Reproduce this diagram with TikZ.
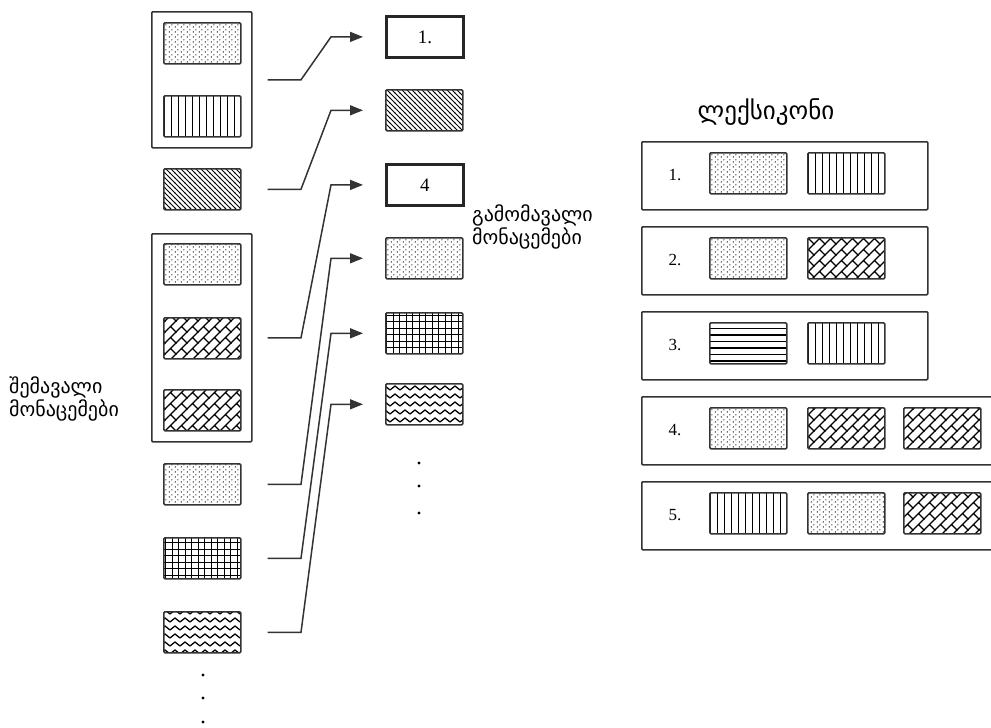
\documentclass[tikz,border=0pt]{standalone}
\usepackage{fontspec}
\setmainfont{Liberation Serif}
\newfontfamily\geo{DejaVu Sans}
\usetikzlibrary{patterns,arrows.meta}

\pgfdeclarepatternformonly{vstripes}{\pgfqpoint{-1pt}{-1pt}}{\pgfqpoint{8pt}{8pt}}{\pgfqpoint{7pt}{7pt}}{%
  \pgfsetlinewidth{1.4pt}%
  \pgfpathmoveto{\pgfqpoint{3.5pt}{-0.5pt}}\pgfpathlineto{\pgfqpoint{3.5pt}{7.5pt}}\pgfusepath{stroke}}
\pgfdeclarepatternformonly{hstripes}{\pgfqpoint{-1pt}{-1pt}}{\pgfqpoint{8pt}{8pt}}{\pgfqpoint{7pt}{6.5pt}}{%
  \pgfsetlinewidth{1.5pt}%
  \pgfpathmoveto{\pgfqpoint{-0.5pt}{3.2pt}}\pgfpathlineto{\pgfqpoint{7.5pt}{3.2pt}}\pgfusepath{stroke}}
\pgfdeclarepatternformonly{gridpat}{\pgfqpoint{-1pt}{-1pt}}{\pgfqpoint{8pt}{8pt}}{\pgfqpoint{6.5pt}{6.5pt}}{%
  \pgfsetlinewidth{1.4pt}%
  \pgfpathmoveto{\pgfqpoint{3.2pt}{-0.5pt}}\pgfpathlineto{\pgfqpoint{3.2pt}{7pt}}%
  \pgfpathmoveto{\pgfqpoint{-0.5pt}{3.2pt}}\pgfpathlineto{\pgfqpoint{7pt}{3.2pt}}\pgfusepath{stroke}}
\pgfdeclarepatternformonly{diaghatch}{\pgfqpoint{-1pt}{-1pt}}{\pgfqpoint{6pt}{6pt}}{\pgfqpoint{5pt}{5pt}}{%
  \pgfsetlinewidth{1pt}%
  \pgfpathmoveto{\pgfqpoint{-0.3pt}{5.3pt}}\pgfpathlineto{\pgfqpoint{5.3pt}{-0.3pt}}\pgfusepath{stroke}}
\pgfdeclarepatternformonly{dotpat}{\pgfqpoint{0pt}{0pt}}{\pgfqpoint{6pt}{5pt}}{\pgfqpoint{6pt}{5pt}}{%
  \pgfpathcircle{\pgfqpoint{1.5pt}{1.25pt}}{0.75pt}%
  \pgfpathcircle{\pgfqpoint{4.5pt}{3.75pt}}{0.75pt}\pgfusepath{fill}}
\pgfdeclarepatternformonly{brickpat}{\pgfqpoint{-1pt}{-1pt}}{\pgfqpoint{12pt}{12pt}}{\pgfqpoint{11pt}{11pt}}{%
  \pgfsetlinewidth{1.3pt}%
  \pgfpathmoveto{\pgfqpoint{-0.4pt}{-0.4pt}}\pgfpathlineto{\pgfqpoint{11.4pt}{11.4pt}}%
  \pgfpathmoveto{\pgfqpoint{5.5pt}{5.5pt}}\pgfpathlineto{\pgfqpoint{11.3pt}{-0.3pt}}\pgfusepath{stroke}}
\pgfdeclarepatternformonly{wavepat}{\pgfqpoint{-1pt}{-1pt}}{\pgfqpoint{11pt}{9pt}}{\pgfqpoint{10pt}{8pt}}{%
  \pgfsetlinewidth{1.3pt}%
  \pgfpathmoveto{\pgfqpoint{0pt}{2pt}}\pgfpathlineto{\pgfqpoint{5pt}{6pt}}\pgfpathlineto{\pgfqpoint{10pt}{2pt}}\pgfusepath{stroke}}

\begin{document}
\begin{tikzpicture}[x=1pt,y=-1pt,
  cell/.style={draw=black!80, line width=1.6pt, rounded corners=1.2pt,
    minimum width=77pt, minimum height=41pt, inner sep=0pt, anchor=north west},
  thickcell/.style={cell, line width=2.8pt, draw=black!85, rounded corners=0pt, font=\fontsize{19}{19}\selectfont},
  group/.style={draw=black!80, line width=1.6pt, rounded corners=1pt, inner sep=0pt,
    minimum width=100pt, anchor=north west},
  lexrow/.style={draw=black!80, line width=1.6pt, rounded corners=1pt, inner sep=0pt,
    minimum height=68pt, anchor=north west},
  conn/.style={draw=black!80, line width=1.5pt, -{Triangle[length=13pt,width=10pt]}},
  georgian/.style={font=\geo\fontsize{20}{23}\selectfont, align=left, inner sep=0pt},
  num/.style={font=\fontsize{17}{17}\selectfont, inner sep=0pt},
  vdot/.style={circle, fill=black, inner sep=0pt, minimum size=3.4pt}
]
\useasboundingbox (0,0) rectangle (991,728);
\clip (0,0) rectangle (991,728);

% left column
\node[group, minimum height=136pt] (g1) at (151,11) {};
\node[cell, pattern=dotpat] (a1) at (163,22) {};
\node[cell, pattern=vstripes] (a2) at (163,95) {};
\node[cell, pattern=diaghatch] (b1) at (163,168) {};
\node[group, minimum height=208pt] (g2) at (151,233) {};
\node[cell, pattern=dotpat] (c1) at (163,243) {};
\node[cell, pattern=brickpat] (c2) at (163,317) {};
\node[cell, pattern=brickpat] (c3) at (163,389) {};
\node[cell, pattern=dotpat] (d1) at (163,463) {};
\node[cell, pattern=gridpat] (d2) at (163,537) {};
\node[cell, pattern=wavepat] (d3) at (163,611) {};
\node[vdot] (ld1) at (203,675) {};
\node[vdot] (ld2) at (203,698) {};
\node[vdot] (ld3) at (203,722) {};

% middle column
\node[thickcell] (o1) at (385,15) {1.};
\node[cell, pattern=diaghatch] (o2) at (385,89) {};
\node[thickcell] (o3) at (385,163) {4};
\node[cell, pattern=dotpat] (o4) at (385,237) {};
\node[cell, pattern=gridpat] (o5) at (385,312) {};
\node[cell, pattern=wavepat] (o6) at (385,383) {};
\node[vdot] (md1) at (419,463) {};
\node[vdot] (md2) at (419,486) {};
\node[vdot] (md3) at (419,513) {};

% connectors
\coordinate (k1) at (301,0);
\coordinate (k2) at (331,0);
\draw[conn] ([xshift=15pt]g1.east) -- (g1.east -| k1) -- (o1.west -| k2) -- ([xshift=-22pt]o1.west);
\draw[conn] ([xshift=26pt]b1.east) -- (b1.east -| k1) -- (o2.west -| k2) -- ([xshift=-22pt]o2.west);
\draw[conn] ([xshift=15pt]g2.east) -- (g2.east -| k1) -- (o3.west -| k2) -- ([xshift=-22pt]o3.west);
\draw[conn] ([xshift=26pt]d1.east) -- (d1.east -| k1) -- (o4.west -| k2) -- ([xshift=-22pt]o4.west);
\draw[conn] ([xshift=26pt]d2.east) -- (d2.east -| k1) -- (o5.west -| k2) -- ([xshift=-22pt]o5.west);
\draw[conn] ([xshift=26pt]d3.east) -- (d3.east -| k1) -- (o6.west -| k2) -- ([xshift=-22pt]o6.west);

% labels
\node[georgian, anchor=west] (inlab) at (9,399) {შემავალი\\მონაცემები};
\node[georgian, anchor=north west] (outlab) at (472,205) {გამომავალი\\მონაცემები};
\node[georgian, font=\geo\fontsize{25}{25}\selectfont] (lextitle) at (766,112) {ლექსიკონი};

% lexicon
\node[lexrow, minimum width=286pt] (r1) at (641,141) {};
\node[lexrow, minimum width=286pt] (r2) at (641,226) {};
\node[lexrow, minimum width=286pt] (r3) at (641,311) {};
\node[lexrow, minimum width=390pt] (r4) at (641,396) {};
\node[lexrow, minimum width=390pt] (r5) at (641,481) {};

\node[num] (n1) at (675,175) {1.};
\node[cell, pattern=dotpat] (r1a) at (709,152) {};
\node[cell, pattern=vstripes] (r1b) at (807,152) {};

\node[num] (n2) at (675,260) {2.};
\node[cell, pattern=dotpat] (r2a) at (709,237) {};
\node[cell, pattern=brickpat] (r2b) at (807,237) {};

\node[num] (n3) at (675,345) {3.};
\node[cell, pattern=hstripes] (r3a) at (709,322) {};
\node[cell, pattern=vstripes] (r3b) at (807,322) {};

\node[num] (n4) at (675,430) {4.};
\node[cell, pattern=dotpat] (r4a) at (709,407) {};
\node[cell, pattern=brickpat] (r4b) at (807,407) {};
\node[cell, pattern=brickpat] (r4c) at (903,407) {};

\node[num] (n5) at (675,515) {5.};
\node[cell, pattern=vstripes] (r5a) at (709,492) {};
\node[cell, pattern=dotpat] (r5b) at (807,492) {};
\node[cell, pattern=brickpat] (r5c) at (903,492) {};
\end{tikzpicture}
\end{document}
